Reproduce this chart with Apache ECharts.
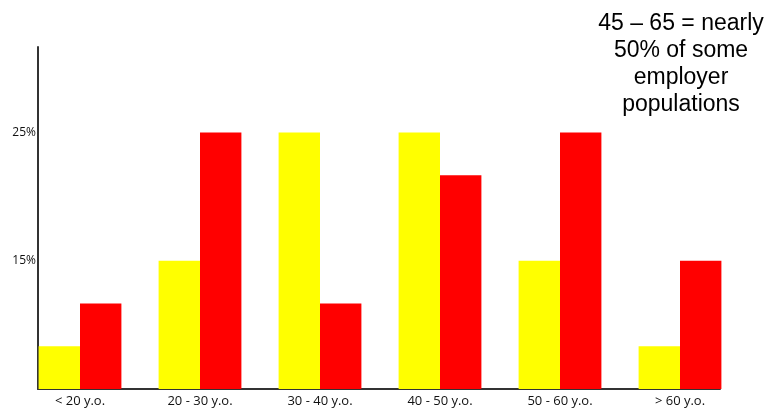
<!DOCTYPE html>
<html>
<head>
<meta charset="utf-8">
<script src="https://cdn.jsdelivr.net/npm/echarts@6/dist/echarts.min.js"></script>
<style>
  html, body { margin: 0; padding: 0; background: #fff; }
  #chart { width: 773px; height: 411px; }
</style>
</head>
<body>
<div id="chart"></div>
<script>
// Age bands along the bottom
const ageBands = ['< 20 y.o.', '20 - 30 y.o.', '30 - 40 y.o.', '40 - 50 y.o.', '50 - 60 y.o.', '> 60 y.o.'];
// Bar heights in axis steps (the axis runs 0..8 steps)
const yellowLevels = [1, 3, 6, 6, 3, 1];
const redLevels = [2, 6, 2, 5, 6, 3];
// Labelled steps on the vertical axis
const tickSteps = [3, 6];
const tickTexts = ['15%', '25%'];
const axisMaxStep = 8;

const noteLines = ['45 \u2013 65 = nearly', '50% of some', 'employer', 'populations'];

const chart = echarts.init(document.getElementById('chart'), null, { renderer: 'canvas' });

const lineStyle = { color: '#333', width: 2 };

chart.setOption({
  animation: false,
  backgroundColor: '#fff',
  grid: [
    // bars
    { left: 20, right: 33, top: 47, bottom: 22 },
    // axis frame
    { left: 38, right: 53, top: 47, bottom: 22 }
  ],
  xAxis: [
    {
      type: 'category', gridIndex: 0, data: ageBands, boundaryGap: true,
      axisLine: { show: false }, axisTick: { show: false },
      axisLabel: { margin: 6, interval: 0, fontFamily: 'Open Sans', fontSize: 13, color: '#111' }
    },
    {
      type: 'value', gridIndex: 1, min: 0, max: 1,
      axisLine: { show: true, onZero: false, lineStyle: lineStyle },
      axisTick: { show: false }, axisLabel: { show: false }, splitLine: { show: false }
    }
  ],
  yAxis: [
    {
      type: 'value', gridIndex: 0, min: 0, max: axisMaxStep, interval: 1, show: false
    },
    {
      type: 'value', gridIndex: 1, min: 0, max: axisMaxStep, interval: 1,
      axisLine: { show: true, onZero: false, lineStyle: lineStyle },
      axisTick: { show: false }, splitLine: { show: false },
      axisLabel: {
        margin: 2, fontFamily: 'Open Sans', fontSize: 12, color: '#111',
        padding: [4, 0, 0, 0],
        formatter: function (v) {
          const i = tickSteps.indexOf(v);
          return i >= 0 ? tickTexts[i] : '';
        }
      }
    }
  ],
  series: [
    {
      type: 'bar', xAxisIndex: 0, yAxisIndex: 0, data: yellowLevels,
      itemStyle: { color: '#FFFF00' }, barGap: '0%', barCategoryGap: '31%'
    },
    {
      type: 'bar', xAxisIndex: 0, yAxisIndex: 0, data: redLevels,
      itemStyle: { color: '#FF0000' }, barGap: '0%', barCategoryGap: '31%'
    }
  ],
  graphic: [
    {
      type: 'text', x: 681, y: 10,
      style: {
        text: noteLines.join('\n'),
        font: '23px "Liberation Sans", Arial, sans-serif',
        fill: '#000', align: 'center', verticalAlign: 'top', lineHeight: 27
      }
    }
  ]
});
</script>
</body>
</html>
